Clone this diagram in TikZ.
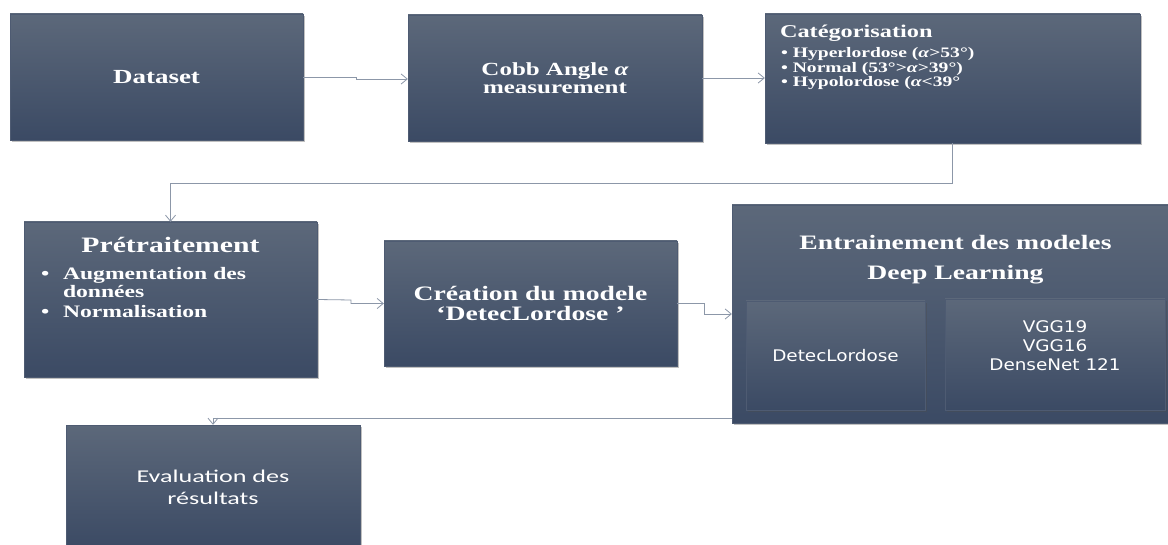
\documentclass[tikz,border=0pt]{standalone}
\usepackage{fontspec}
\usetikzlibrary{arrows.meta,shadows}
\newfontfamily\bserif[FakeStretch=1.35]{Liberation Serif Bold}
\newfontfamily\bserifit[FakeStretch=1.35]{Liberation Serif Bold Italic}
\newfontfamily\dsans[FakeStretch=1.15]{DejaVu Sans}
\newfontfamily\carl[FakeStretch=1.45]{Carlito}
\newcommand\alf{{\bserifit α}}
\definecolor{boxtop}{HTML}{5C687A}
\definecolor{boxbot}{HTML}{3B4A64}
\definecolor{boxedge}{HTML}{4E5B72}
\definecolor{conncol}{HTML}{8C97A8}
\tikzset{
  box/.style={rectangle, inner sep=0pt, top color=boxtop, bottom color=boxbot,
    draw=boxedge, line width=0.4pt, text=white, align=center,
    drop shadow={shadow xshift=1.5pt, shadow yshift=-2pt, opacity=.35, fill=black!70}},
  conn/.style={draw=conncol, line width=0.8pt, -{Straight Barb[length=6pt,width=10pt]}},
  lbl/.style={text=white, inner sep=0pt},
}
\begin{document}
\begin{tikzpicture}[x=1pt,y=-1pt]
\useasboundingbox (0,0) rectangle (1168,545);
\fill[white] (0,0) rectangle (1168,545);

% top row
\node[box, minimum width=293pt, minimum height=126pt,
  font=\bserif\fontsize{20}{22}\selectfont] (dataset) at (156.5,77) {Dataset};
\node[box, minimum width=294pt, minimum height=126pt,
  font=\bserif\fontsize{18.5}{17.5}\selectfont] (cobb) at (555,78) {Cobb Angle \alf\\measurement};
\node[box, minimum width=375pt, minimum height=129pt] (cat) at (952.5,78.5) {};
\node[lbl, anchor=base west, font=\bserif\fontsize{18}{20}\selectfont] (catT) at ([xshift=15pt,yshift=-24pt]cat.north west) {Catégorisation};
\node[lbl, anchor=base west, font=\bserif\fontsize{14.5}{14}\selectfont] (catA) at ([xshift=16pt,yshift=-44pt]cat.north west) {•\hspace{5pt}Hyperlordose (\alf>53°)};
\node[lbl, anchor=base west, font=\bserif\fontsize{14.5}{14}\selectfont] (catB) at ([xshift=16pt,yshift=-58.5pt]cat.north west) {•\hspace{5pt}Normal (53°>\alf>39°)};
\node[lbl, anchor=base west, font=\bserif\fontsize{14.5}{14}\selectfont] (catC) at ([xshift=16pt,yshift=-73pt]cat.north west) {•\hspace{5pt}Hypolordose (\alf<39°};

% middle row
\node[box, minimum width=293pt, minimum height=155pt] (pret) at (170.5,299.5) {};
\node[lbl, anchor=base, font=\bserif\fontsize{22}{24}\selectfont] (pretT) at ([yshift=-31pt]pret.north) {Prétraitement};
\node[lbl, anchor=base west, font=\bserif\fontsize{17.5}{19}\selectfont] (pretB1) at ([xshift=17pt,yshift=-58pt]pret.north west) {•};
\node[lbl, anchor=base west, font=\bserif\fontsize{17.5}{19}\selectfont] (pretA) at ([xshift=39pt,yshift=-58pt]pret.north west) {Augmentation des};
\node[lbl, anchor=base west, font=\bserif\fontsize{17.5}{19}\selectfont] (pretA2) at ([xshift=39pt,yshift=-76pt]pret.north west) {données};
\node[lbl, anchor=base west, font=\bserif\fontsize{17.5}{19}\selectfont] (pretB2) at ([xshift=17pt,yshift=-96pt]pret.north west) {•};
\node[lbl, anchor=base west, font=\bserif\fontsize{17.5}{19}\selectfont] (pretB) at ([xshift=39pt,yshift=-96pt]pret.north west) {Normalisation};

\node[box, minimum width=293pt, minimum height=125pt,
  font=\bserif\fontsize{20.5}{20}\selectfont] (creation) at (530.5,303.5) {Création du modele\\‘DetecLordose ’};

\node[box, minimum width=443pt, minimum height=218pt] (entr) at (953.5,314) {};
\node[lbl, anchor=base, font=\bserif\fontsize{20.5}{21}\selectfont] (entrT1) at ([xshift=2pt,yshift=-45pt]entr.north) {Entrainement des modeles};
\node[lbl, anchor=base, font=\bserif\fontsize{20.5}{21}\selectfont] (entrT2) at ([xshift=2pt,yshift=-75pt]entr.north) {Deep Learning};
\node[box, minimum width=179pt, minimum height=109pt,
  font=\dsans\fontsize{16}{19}\selectfont] (detec) at (835.5,355.5) {DetecLordose};
\node[box, minimum width=220pt, minimum height=111pt] (vgg) at (1055,354.5) {};
\node[lbl, align=center, font=\dsans\fontsize{16}{19}\selectfont] (vggT) at (1055,346) {VGG19\\VGG16\\DenseNet 121};

% bottom
\node[box, minimum width=294pt, minimum height=124pt,
  font=\carl\fontsize{18}{22}\selectfont] (eval) at (213,487) {Evaluation des\\résultats};

% connectors
\draw[conn] (dataset.east) -- (356,77) -- (356,79) -- (cobb.west |- 0,79);
\draw[conn] (cobb.east) -- (cat.west |- cobb.east);
\draw[conn] (cat.south) -- ++(0,40) -| (pret.north);
\draw[conn] (pret.east) -- (351,300) -- (351,303.5) -- (creation.west);
\draw[conn] (creation.east) -- ++(27,0) |- (entr.west);
\draw[conn] ([yshift=5pt]entr.south west) -| (eval.north);
\end{tikzpicture}
\end{document}
